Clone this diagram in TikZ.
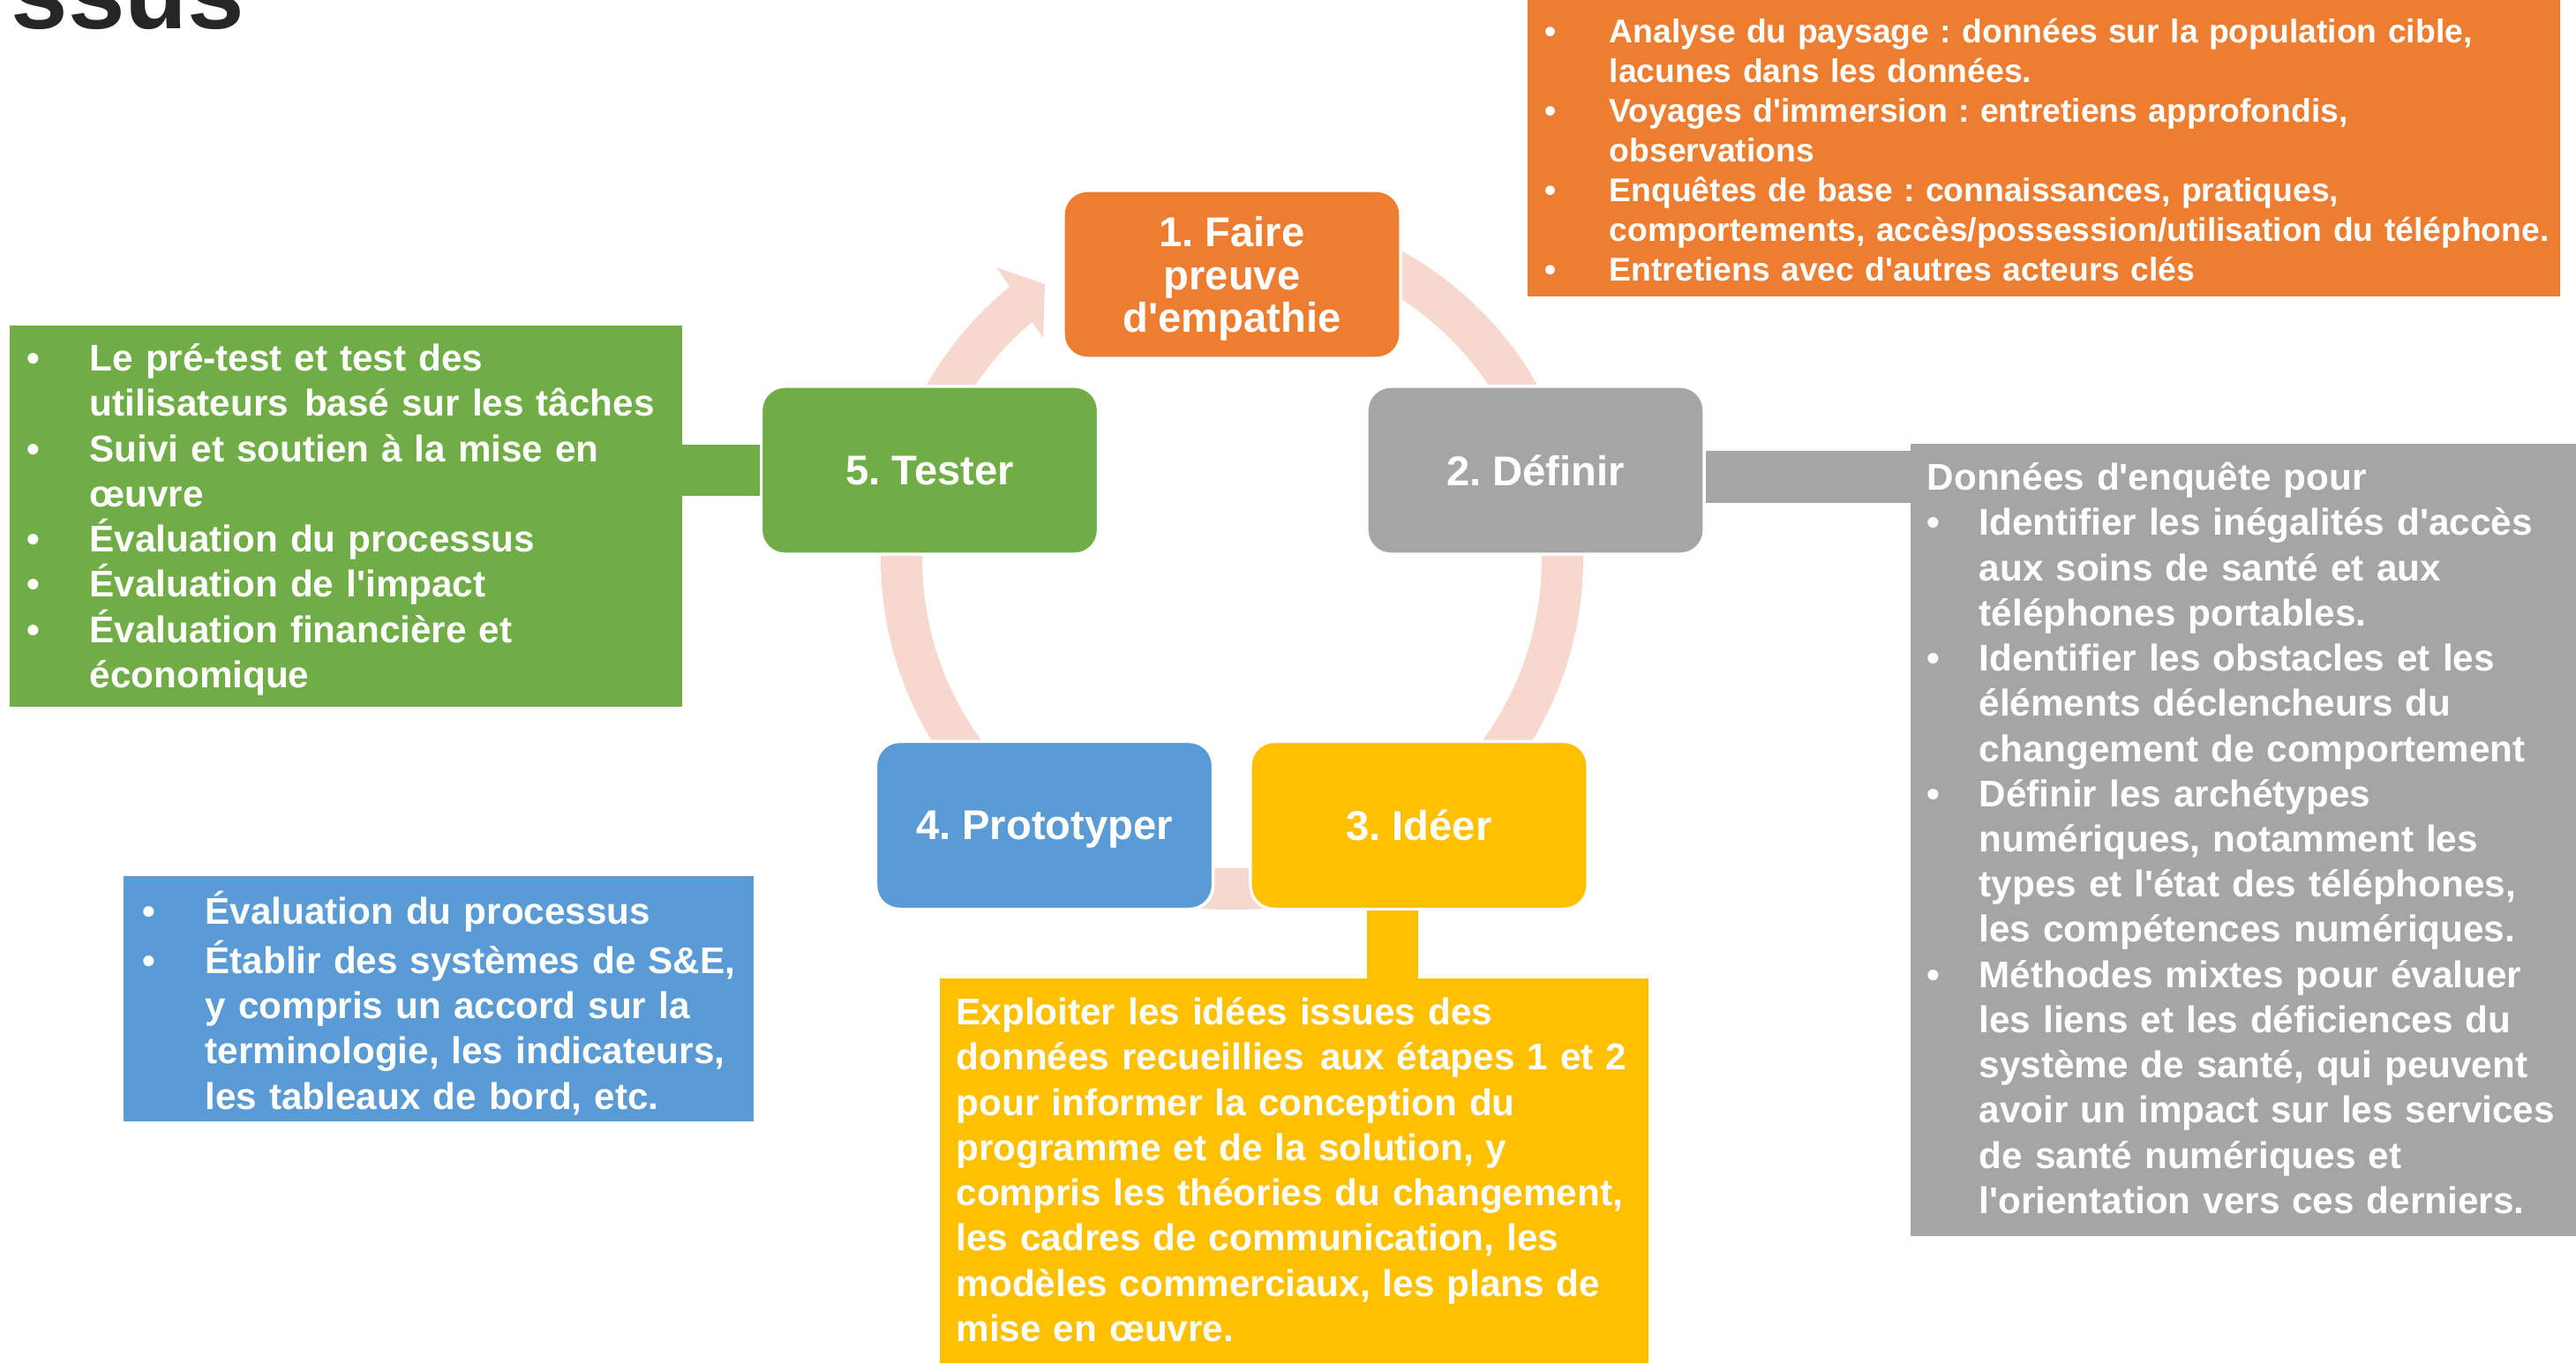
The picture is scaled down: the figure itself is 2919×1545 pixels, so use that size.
\documentclass[tikz,border=0pt]{standalone}
\usepackage{fontspec}
\setmainfont{Liberation Sans}[Ligatures=TeXOff]
\usepackage{tikz}
\usetikzlibrary{calc}
\definecolor{stepOrange}{HTML}{ED7D31}
\definecolor{stepGrey}{HTML}{A5A5A5}
\definecolor{stepYellow}{HTML}{FFC000}
\definecolor{stepBlue}{HTML}{5B9BD5}
\definecolor{stepGreen}{HTML}{70AD47}
\definecolor{ringPink}{HTML}{F7D8CE}
\definecolor{titleGrey}{HTML}{262626}
\setlength{\parindent}{0pt}
\frenchspacing
\newlength{\bltw}
\newcommand{\blt}{\makebox[\bltw][l]{•}}
\newcommand{\cnt}{\hspace*{\bltw}}

\begin{document}
\begin{tikzpicture}[x=0.01cm, y=-0.01cm]
    % Setup the styles for the steps and the side panels
        \tikzset{stepbox/.style={rectangle,
                                 rounded corners=0.27cm,
                                 draw=white,
                                 line width=1pt,
                                 minimum width=3.82cm,
                                 minimum height=1.9cm,
                                 text=white,
                                 text depth=0pt,
                                 align=center,
                                 font=\fontsize{13.4}{13.9}\selectfont\bfseries},
                 panel/.style={rectangle, inner sep=0pt, outer sep=0pt, anchor=north west},
                 sidetext/.style={anchor=north west,
                                  inner sep=0pt,
                                  text width=12cm,
                                  align=left,
                                  text=white,
                                  font=\fontsize{12}{14.57}\selectfont\bfseries,
                                  execute at begin node={\setlength{\bltw}{#1}}},
                 sidetext/.default=0.71cm,
                 bar/.style={line width=0.58cm, draw=#1}}
        \useasboundingbox (0,0) rectangle (2919,1545);
        % Title, cut by the page
        \node[font=\fontsize{33}{33}\selectfont\bfseries, text=titleGrey,
              anchor=base east, inner sep=0pt] at (278,32) (titre) {ssus};
        % The cycle arrow behind the steps
        \begin{scope}[shift={(1396,633)}]
        \fill[ringPink] (242:398) arc[start angle=242, end angle=590.7, radius=398]
            -- (-267,-330) -- (-212,-311) -- (-214,-250)
            -- (589.8:351) arc[start angle=589.8, end angle=242, radius=351] -- cycle;
        \end{scope}
        % Draw the steps
        \node[stepbox, fill=stepOrange] at (1396,311)    (empathie)   {1. Faire\\preuve\\d'empathie};
        \node[stepbox, fill=stepGrey]   at (1740,533)    (definir)    {2. Définir};
        \node[stepbox, fill=stepYellow] at (1608,935.5)  (ideer)      {3. Idéer};
        \node[stepbox, fill=stepBlue]   at (1183.5,935.5) (prototyper) {4. Prototyper};
        \node[stepbox, fill=stepGreen]  at (1053.5,533)  (tester)     {5. Tester};
        % Draw the side panels
        \node[panel, fill=stepOrange, minimum width=11.69cm, minimum height=3.36cm] at (1731,0)    (paysagepanel) {};
        \node[panel, fill=stepGrey,   minimum width=7.54cm,  minimum height=8.97cm] at (2165,503)  (enquetepanel) {};
        \node[panel, fill=stepGreen,  minimum width=7.62cm,  minimum height=4.32cm] at (11,369)    (evalpanel)    {};
        \node[panel, fill=stepBlue,   minimum width=7.14cm,  minimum height=2.78cm] at (140,993)   (suivipanel)   {};
        \node[panel, fill=stepYellow, minimum width=8.03cm,  minimum height=4.36cm] at (1065,1109) (ideepanel)    {};
        % Connect the steps with their panels
        \coordinate (definirbar) at ([yshift=-0.075cm]definir.east);
        \coordinate (ideerbar)   at ([xshift=-0.3cm]ideer.south);
        \draw[bar=stepGreen]  (tester.west) -- (tester.west -| evalpanel.east);
        \draw[bar=stepGrey]   (definirbar) -- (definirbar -| enquetepanel.west);
        \draw[bar=stepYellow] (ideerbar) -- (ideerbar |- ideepanel.north);
        % Texts of the panels
        \node[sidetext=0.73cm, font=\fontsize{10.6}{12.8}\selectfont\bfseries]
            at ([xshift=0.19cm, yshift=-0.16cm]paysagepanel.north west) (paysage) {\strut
            \blt Analyse du paysage : données sur la population cible,\\
            \cnt lacunes dans les données.\\
            \blt Voyages d'immersion : entretiens approfondis,\\
            \cnt observations\\
            \blt Enquêtes de base : connaissances, pratiques,\\
            \cnt comportements, accès/possession/utilisation du téléphone.\\
            \blt Entretiens avec d'autres acteurs clés};
        \node[sidetext=0.59cm] at ([xshift=0.18cm, yshift=-0.16cm]enquetepanel.north west) (enquete) {\strut
            Données d'enquête pour\\
            \blt Identifier les inégalités d'accès\\
            \cnt aux soins de santé et aux\\
            \cnt téléphones portables.\\
            \blt Identifier les obstacles et les\\
            \cnt éléments déclencheurs du\\
            \cnt changement de comportement\\
            \blt Définir les archétypes\\
            \cnt numériques, notamment les\\
            \cnt types et l'état des téléphones,\\
            \cnt les compétences numériques.\\
            \blt Méthodes mixtes pour évaluer\\
            \cnt les liens et les déficiences du\\
            \cnt système de santé, qui peuvent\\
            \cnt avoir un impact sur les services\\
            \cnt de santé numériques et\\
            \cnt l'orientation vers ces derniers.};
        \node[sidetext] at ([xshift=0.19cm, yshift=-0.15cm]evalpanel.north west) (eval) {\strut
            \blt Le pré-test et test des\\
            \cnt utilisateurs\hspace{0.1em} basé sur les tâches\\
            \blt Suivi et soutien à la mise en\\
            \cnt œuvre\\
            \blt Évaluation du processus\\
            \blt Évaluation de l'impact\\
            \blt Évaluation financière et\\
            \cnt économique};
        \node[sidetext] at ([xshift=0.21cm, yshift=-0.16cm]suivipanel.north west) (suivi) {\strut
            \blt Évaluation du processus\\
            \blt Établir des systèmes de S\&E,\\
            \cnt y compris un accord sur la\\
            \cnt terminologie, les indicateurs,\\
            \cnt les tableaux de bord, etc.};
        \node[sidetext] at ([xshift=0.18cm, yshift=-0.16cm]ideepanel.north west) (idee) {\strut
            Exploiter les idées issues des\\
            données recueillies\hspace{0.1em} aux étapes 1 et 2\\
            pour informer la conception du\\
            programme et de la solution, y\\
            compris les théories du changement,\\
            les cadres de communication, les\\
            modèles commerciaux, les plans de\\
            mise en œuvre.};
\end{tikzpicture}
\end{document}
